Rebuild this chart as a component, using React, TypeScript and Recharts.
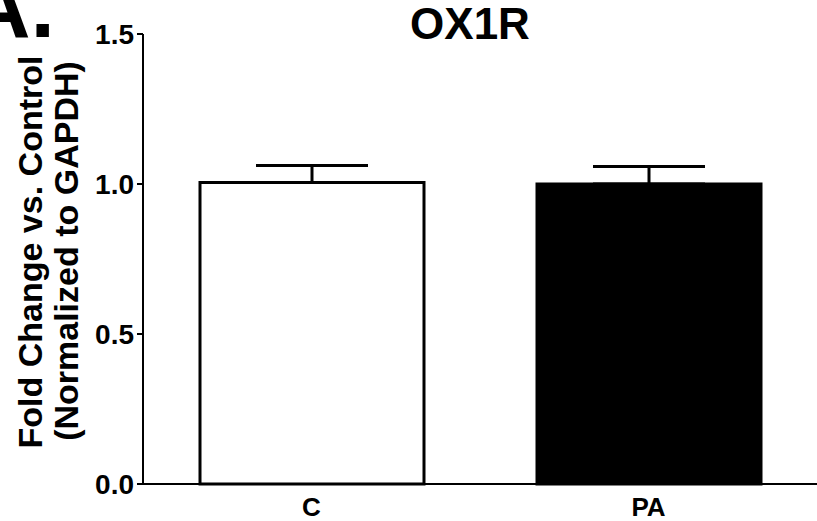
import React from 'react';
import { BarChart, Bar, XAxis, YAxis, ErrorBar, Cell } from 'recharts';

const categories = ['C', 'PA'];
const foldChange = [1.005, 1.0];
const semUpper = [0.057, 0.058];
const barFills = ['#ffffff', '#000000'];
const yTicks = [0, 0.5, 1.0, 1.5];

const data = categories.map((name, i) => ({
  name,
  value: foldChange[i],
  err: [0, semUpper[i]],
}));

const FONT = '"Liberation Sans", Arial, Helvetica, sans-serif';

export default function App() {
  return (
    <div style={{ position: 'absolute', left: 0, top: 0, width: 817, height: 521, background: '#fff', overflow: 'hidden' }}>
      <BarChart
        width={817}
        height={521}
        data={data}
        margin={{ top: 34, right: 0, bottom: 7, left: 0 }}
      >
        <XAxis
          dataKey="name"
          height={30}
          axisLine={{ stroke: '#000', strokeWidth: 2 }}
          tickLine={false}
          tickSize={0}
          tickMargin={14}
          tick={{ fill: '#000', fontSize: 26, fontWeight: 700, fontFamily: FONT }}
        />
        <YAxis
          width={143}
          domain={[0, 1.5]}
          ticks={yTicks}
          interval={0}
          tickFormatter={(v: number) => v.toFixed(1)}
          axisLine={{ stroke: '#000', strokeWidth: 2 }}
          tickLine={{ stroke: '#000', strokeWidth: 2 }}
          tickSize={6}
          tickMargin={3}
          tick={{ fill: '#000', fontSize: 28, fontWeight: 700, fontFamily: FONT }}
        />
        <Bar dataKey="value" barSize={224} stroke="#000" strokeWidth={3} isAnimationActive={false}>
          {data.map((d, i) => (
            <Cell key={d.name} fill={barFills[i]} />
          ))}
          <ErrorBar dataKey="err" width={56} stroke="#000" strokeWidth={3} direction="y" />
        </Bar>
      </BarChart>
      <svg
        width={817}
        height={521}
        style={{ position: 'absolute', left: 0, top: 0, pointerEvents: 'none' }}
      >
        <text x={-33} y={37} fontSize={88} fontWeight={700} fontFamily={FONT} fill="#000">A.</text>
        <text x={470} y={39} fontSize={44} fontWeight={700} fontFamily={FONT} fill="#000" textAnchor="middle">OX1R</text>
        <text transform="translate(42,252) rotate(-90)" fontSize={34} fontWeight={700} fontFamily={FONT} fill="#000" textAnchor="middle">Fold Change vs. Control</text>
        <text transform="translate(78,251) rotate(-90)" fontSize={34} fontWeight={700} fontFamily={FONT} fill="#000" textAnchor="middle">(Normalized to GAPDH)</text>
      </svg>
    </div>
  );
}
